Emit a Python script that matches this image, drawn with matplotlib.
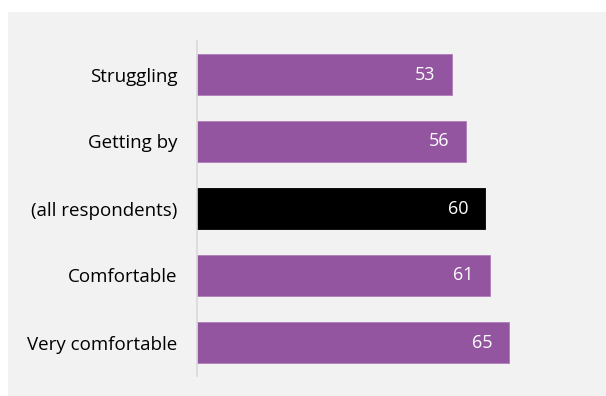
import matplotlib.pyplot as plt
from matplotlib.patches import Rectangle

# financial situation groups, top to bottom
groups = ["Struggling", "Getting by", "(all respondents)", "Comfortable", "Very comfortable"]
scores = [53, 56, 60, 61, 65]
colours = ["#9354a0", "#9354a0", "#000000", "#9354a0", "#9354a0"]

plt.rcParams['font.family'] = ['Open Sans', 'DejaVu Sans']

fig = plt.figure(figsize=(6.06, 3.96), dpi=100)
fig.patch.set_facecolor("white")
# grey panel behind the chart
fig.patches.append(Rectangle((8 / 606, 0), 1, 1 - 12 / 396, transform=fig.transFigure,
                             facecolor="#f2f2f2", edgecolor="none", zorder=-5))

ax = fig.add_axes([197 / 606, 20 / 396, 394 / 606, 335 / 396])
ax.set_facecolor("none")
ax.set_zorder(2)

ypos = list(range(len(groups)))
bars = ax.barh(ypos, scores, height=0.62, color=colours, edgecolor=colours, linewidth=0.6)
for b in bars:
    if b.get_facecolor()[0] > 0.1:
        b.set_edgecolor("#b07cb9")

for y, v in zip(ypos, scores):
    ax.text(v - 3.5, y, str(v), ha="right", va="center", color="white", fontsize=13)

ax.set_xlim(0, 82)
ax.set_ylim(4.5, -0.5)
ax.set_yticks(ypos)
ax.set_yticklabels(groups, fontsize=13.5)
ax.tick_params(axis="y", length=0, pad=14)
ax.set_xticks([])
for s in ["top", "right", "bottom"]:
    ax.spines[s].set_visible(False)
ax.spines["left"].set_color("#d9d9d9")
ax.spines["left"].set_linewidth(1.2)

fig.savefig("out.png", dpi=100)
